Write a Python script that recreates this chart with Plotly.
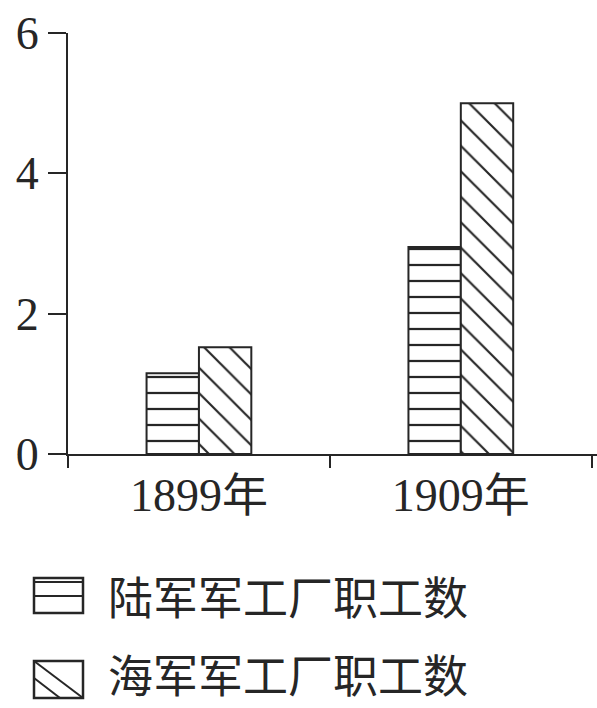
import plotly.graph_objects as go

categories = ["1899年", "1909年"]
army_values = [1.15, 2.95]
navy_values = [1.52, 5.0]
series_names = ["陆军军工厂职工数", "海军军工厂职工数"]
y_ticks = [0, 2, 4, 6]

INK = "#262626"
SERIF = "Liberation Serif, Times New Roman, Noto Sans CJK SC, serif"
CJK = "Noto Sans CJK SC, sans-serif"

fig = go.Figure()
fig.add_trace(go.Bar(
    x=categories, y=army_values, name=series_names[0],
    marker=dict(color="white", line=dict(color=INK, width=2),
                pattern=dict(shape="-", size=16, solidity=0.14, fgopacity=1,
                             fgcolor=INK, bgcolor="white", fillmode="overlay")),
    showlegend=False,
))
fig.add_trace(go.Bar(
    x=categories, y=navy_values, name=series_names[1],
    marker=dict(color="white", line=dict(color=INK, width=2),
                pattern=dict(shape="\\", size=18, solidity=0.12, fgopacity=1,
                             fgcolor=INK, bgcolor="white", fillmode="overlay")),
    showlegend=False,
))

def px_x(x):
    return (x - 68) / 529.0

def px_y(y):
    return (454 - y) / 421.0

# legend drawn as decoration
shapes = [
    dict(type="rect", xref="paper", yref="paper",
         x0=px_x(34), x1=px_x(83), y0=px_y(613), y1=px_y(578),
         line=dict(color=INK, width=2.5), fillcolor="rgba(0,0,0,0)"),
    dict(type="line", xref="paper", yref="paper",
         x0=px_x(34), x1=px_x(83), y0=px_y(596), y1=px_y(596),
         line=dict(color=INK, width=2)),
    dict(type="line", xref="paper", yref="paper",
         x0=px_x(34), x1=px_x(83), y0=px_y(582), y1=px_y(582),
         line=dict(color=INK, width=2)),
    dict(type="rect", xref="paper", yref="paper",
         x0=px_x(34), x1=px_x(83), y0=px_y(698), y1=px_y(661),
         line=dict(color=INK, width=2.5), fillcolor="rgba(0,0,0,0)"),
    dict(type="line", xref="paper", yref="paper",
         x0=px_x(34), x1=px_x(83), y0=px_y(661), y1=px_y(698),
         line=dict(color=INK, width=2)),
    dict(type="line", xref="paper", yref="paper",
         x0=px_x(34), x1=px_x(60), y0=px_y(678), y1=px_y(698),
         line=dict(color=INK, width=2)),
]

annotations = [
    dict(text=series_names[0], xref="paper", yref="paper",
         x=px_x(106), y=px_y(595), xanchor="left", yanchor="middle",
         showarrow=False, font=dict(family=CJK, size=45, color=INK)),
    dict(text=series_names[1], xref="paper", yref="paper",
         x=px_x(106), y=px_y(673), xanchor="left", yanchor="middle",
         showarrow=False, font=dict(family=CJK, size=45, color=INK)),
]

fig.update_layout(
    width=597, height=708,
    margin=dict(l=68, r=0, t=33, b=254),
    paper_bgcolor="white", plot_bgcolor="white",
    barmode="group", bargap=0.6, bargroupgap=0,
    shapes=shapes, annotations=annotations,
    xaxis=dict(
        range=[-0.5, 1.52], showline=True, linecolor=INK, linewidth=2,
        ticks="outside", tickson="boundaries", ticklen=12, tickwidth=2, tickcolor=INK,
        showgrid=False, zeroline=False,
        tickfont=dict(family=SERIF, size=46, color=INK),
    ),
    yaxis=dict(
        range=[0, 6], tickvals=y_ticks, showline=True, linecolor=INK, linewidth=2,
        ticks="outside", ticklen=18, tickwidth=2, tickcolor=INK,
        showgrid=False, zeroline=False,
        tickfont=dict(family=SERIF, size=46, color=INK),
    ),
)

fig.write_html(
    "out.html",
    config={"displayModeBar": False, "staticPlot": True},
    post_script="document.body.style.margin='0';document.body.style.padding='0';"
                "document.body.style.overflow='hidden';",
)
